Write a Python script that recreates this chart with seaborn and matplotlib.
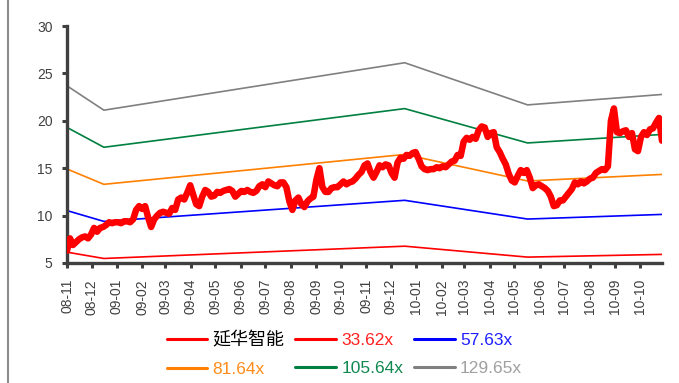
import numpy as np
import pandas as pd
import matplotlib
matplotlib.use("Agg")
import matplotlib.pyplot as plt
import matplotlib.dates as mdates
from matplotlib.patches import Rectangle
import seaborn as sns

# ---- data -------------------------------------------------------------
stock_name = "延华智能"

# closing price, sampled at regular intervals from 2008-11-01 to 2010-10-28
price = [
    6.3, 7.6, 6.9, 7.2, 7.5, 7.7, 7.8, 7.6, 8.0, 8.7,
    8.3, 8.7, 8.8, 9.0, 9.3, 9.2, 9.3, 9.3, 9.2, 9.4,
    9.4, 9.3, 9.6, 10.6, 11.0, 10.7, 11.0, 9.8, 8.8, 9.6,
    10.0, 10.3, 10.4, 10.3, 10.2, 10.8, 10.6, 11.7, 11.9, 11.7,
    12.4, 13.2, 12.2, 11.2, 11.0, 12.0, 12.7, 12.5, 12.0, 12.1,
    12.5, 12.4, 12.6, 12.7, 12.8, 12.6, 12.0, 12.3, 12.6, 12.5,
    12.7, 12.5, 12.4, 12.6, 13.1, 13.3, 13.0, 13.6, 13.4, 13.2,
    13.1, 13.5, 13.5, 13.0, 11.5, 10.6, 11.6, 11.9, 11.2, 10.9,
    11.5, 11.8, 12.0, 13.8, 15.0, 13.0, 12.5, 12.5, 12.9, 13.0,
    13.0, 13.3, 13.6, 13.3, 13.5, 13.6, 13.9, 14.3, 14.6, 15.3,
    15.5, 14.6, 14.0, 14.6, 15.3, 15.1, 15.4, 15.3, 14.5, 14.0,
    15.6, 16.1, 16.0, 16.4, 16.3, 16.6, 16.7, 16.0, 15.2, 14.9,
    14.8, 14.9, 14.9, 15.1, 15.0, 15.2, 15.1, 15.4, 15.7, 15.8,
    16.4, 16.3, 17.8, 18.2, 18.0, 18.3, 18.1, 19.0, 19.4, 19.3,
    18.3, 18.7, 18.8, 17.2, 16.7, 16.0, 15.4, 14.4, 13.7, 13.5,
    14.2, 14.8, 14.5, 14.8, 14.0, 12.9, 13.2, 13.3, 13.1, 12.9,
    12.6, 12.0, 11.0, 11.1, 11.6, 11.6, 12.0, 12.4, 12.8, 13.5,
    13.3, 13.6, 13.4, 13.6, 13.9, 14.0, 14.5, 14.7, 14.9, 14.8,
    15.2, 20.0, 21.3, 18.8, 18.7, 18.9, 19.0, 18.3, 18.7, 17.0,
    16.8, 18.3, 18.8, 18.5, 19.1, 19.2, 19.8, 20.3, 17.9,
]
price_start, price_end = "2008-11-01", "2010-10-28"

# trailing EPS used for the PE bands
eps_dates = ["2008-11-01", "2008-12-16", "2009-12-18", "2010-05-17", "2010-10-28"]
eps = [0.1827, 0.1629, 0.2015, 0.1672, 0.1757]

# PE multiples and their colours
pe_multiples = [33.62, 57.63, 81.64, 105.64, 129.65]
pe_colors = ["#FF0000", "#0000FF", "#FF8000", "#008040", "#808080"]
pe_text_colors = ["#FF2020", "#2020FF", "#FF8C1A", "#108850", "#A0A0A0"]

y_ticks = [5, 10, 15, 20, 25, 30]

# ---- figure -----------------------------------------------------------
sns.set_theme(style="white")
plt.rcParams["font.family"] = ["Liberation Sans", "Noto Sans CJK SC", "DejaVu Sans"]

fig = plt.figure(figsize=(6.79, 3.83), dpi=100)
ax = fig.add_axes([67 / 679, 1 - 263 / 383, (662 - 67) / 679, (263 - 26) / 383])

price_df = pd.DataFrame({
    "date": pd.date_range(price_start, price_end, periods=len(price)),
    "price": price,
})
eps_df = pd.DataFrame({"date": pd.to_datetime(eps_dates), "eps": eps})

handles = []
sns.lineplot(data=price_df, x="date", y="price", ax=ax, color="#FF0000",
             linewidth=4.7, solid_joinstyle="round", zorder=3)
handles.append(ax.lines[-1])

for m, c in zip(pe_multiples, pe_colors):
    sns.lineplot(x=eps_df["date"], y=eps_df["eps"] * m, ax=ax, color=c,
                 linewidth=1.2, zorder=2)
    handles.append(ax.lines[-1])

ax.set_xlim(pd.Timestamp("2008-11-01"), pd.Timestamp(price_end))
ax.set_ylim(5, 30)
ax.set_yticks(y_ticks)
ax.set_xlabel("")
ax.set_ylabel("")

ax.xaxis.set_major_locator(mdates.MonthLocator())
ax.xaxis.set_major_formatter(mdates.DateFormatter("%y-%m"))

for side in ("top", "right"):
    ax.spines[side].set_visible(False)
for side in ("left", "bottom"):
    ax.spines[side].set_color("#404040")
    ax.spines[side].set_linewidth(2.4)

ax.tick_params(axis="both", which="major", direction="out", length=3.5,
               width=2.2, color="#404040", labelcolor="#404040", left=True, bottom=True)
ax.tick_params(axis="y", labelsize=10, pad=7)
ax.tick_params(axis="x", labelsize=10, pad=8)
for lab in ax.get_xticklabels():
    lab.set_rotation(90)
    lab.set_family(["Liberation Sans Narrow", "Liberation Sans"])
    lab.set_va("top")
    lab.set_ha("center")

# legend in row-major order: 3 columns, 2 rows
labels = [stock_name] + [f"{m:.2f}x" for m in pe_multiples]
order = [0, 3, 1, 4, 2, 5]
leg = fig.legend([handles[i] for i in order], [labels[i] for i in order],
                 loc="center", bbox_to_anchor=(0.507, 0.075), ncol=3,
                 frameon=False, fontsize=12.5, handlelength=2.36, handletextpad=0.3,
                 columnspacing=0.6, labelspacing=0.72)
text_colors = ["#000000"] + pe_text_colors
for t, i in zip(leg.get_texts(), order):
    t.set_color(text_colors[i])
    if i == 0:
        t.set_fontsize(13)
for h in leg.legend_handles:
    h.set_linewidth(2.2)

# outer frame
fig.patches.append(Rectangle((8 / 679, -0.2), 1.2, 1.2 + (1 - 8 / 383),
                             transform=fig.transFigure, fill=False,
                             edgecolor="#8C8C8C", linewidth=1.5, clip_on=False))

fig.savefig("out.png", dpi=100)
